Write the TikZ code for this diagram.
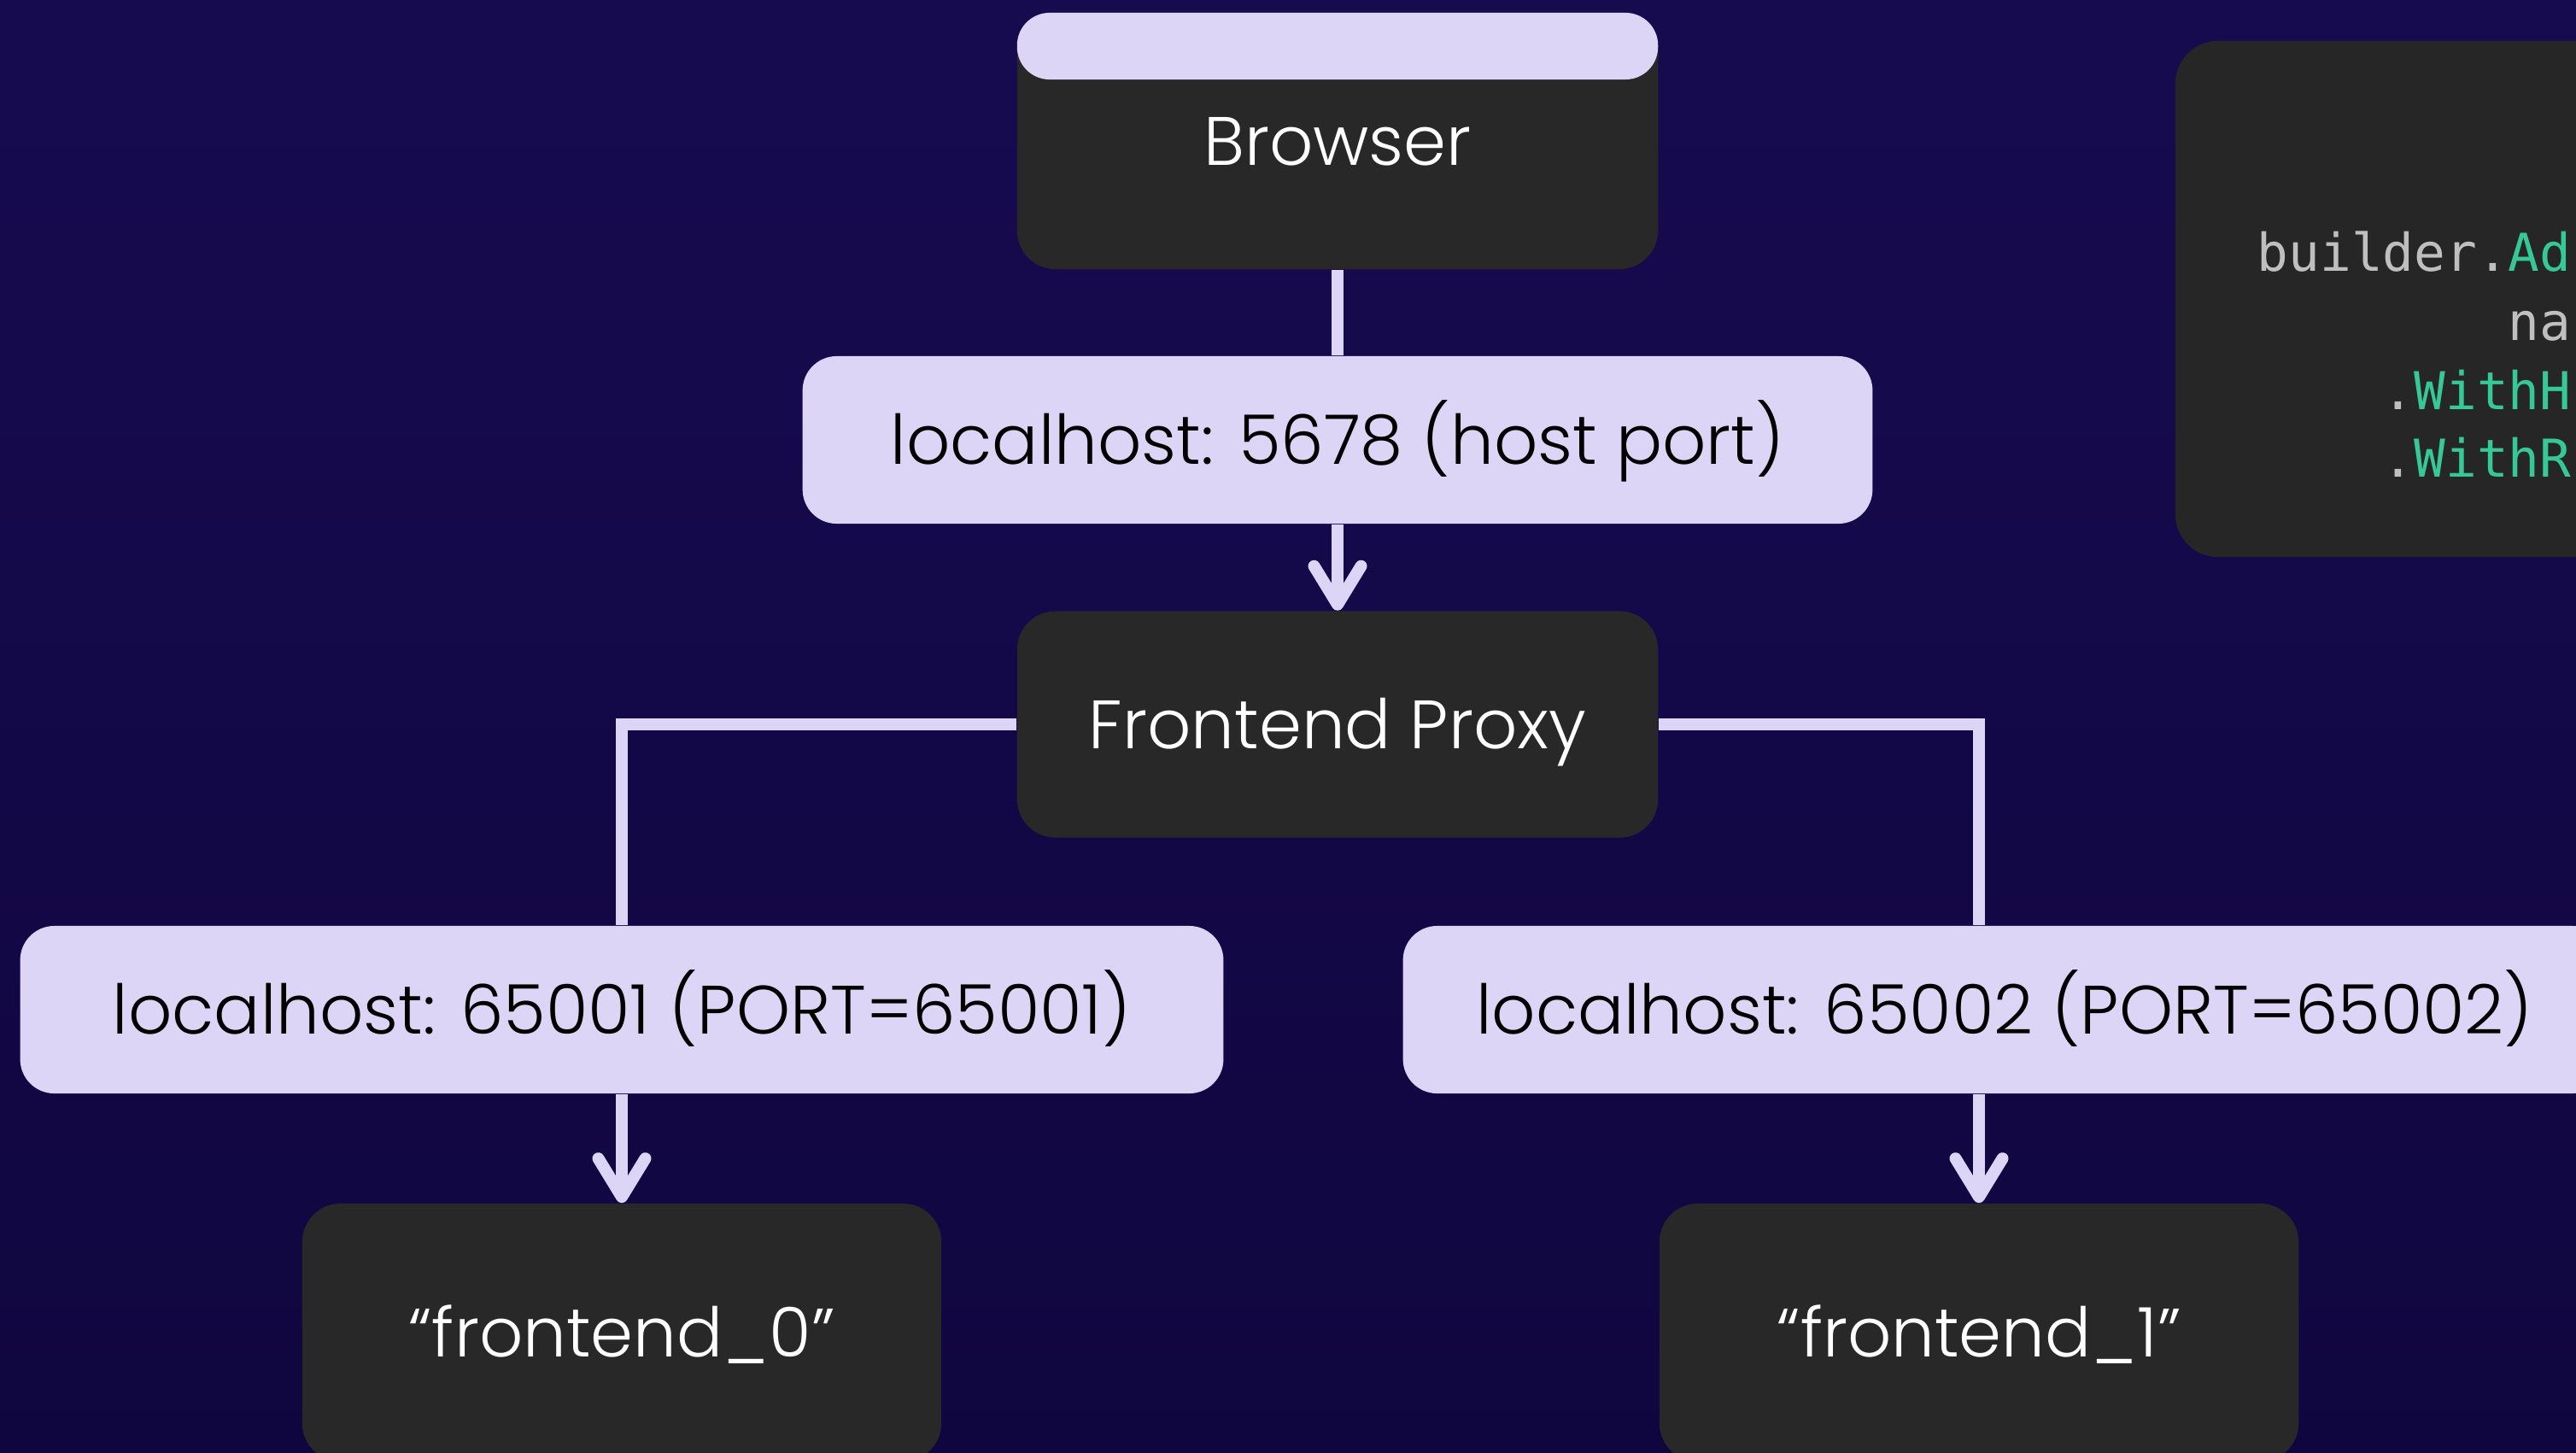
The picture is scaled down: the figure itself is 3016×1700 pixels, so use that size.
\documentclass[tikz,border=0pt]{standalone}
\usepackage{fontspec}
\setmainfont{Poppins Light}
\newfontfamily\codefont{DejaVu Sans Mono}
\usetikzlibrary{arrows.meta}
\definecolor{bgtop}{HTML}{170B50}
\definecolor{bgbot}{HTML}{10063F}
\definecolor{card}{HTML}{282828}
\definecolor{codebg}{HTML}{262626}
\definecolor{lav}{HTML}{DCD5F5}
\definecolor{codegray}{HTML}{BFBFBF}
\definecolor{codegreen}{HTML}{36C997}
\newcommand\diagfont{\fontsize{22.8}{27}\selectfont}
\begin{document}
\begin{tikzpicture}[x=0.01cm,y=-0.01cm,
  darkbox/.style={fill=card, rounded corners=0.45cm, inner sep=0pt, text=white,
    text height=0.57cm, text depth=0pt, font=\diagfont},
  portbox/.style={fill=lav, rounded corners=0.40cm, inner sep=0pt, text=black,
    text height=0.57cm, text depth=0pt, minimum height=1.96cm, font=\diagfont},
  link/.style={draw=lav, line width=0.14cm},
  flow/.style={link, -{Straight Barb[length=0.45cm,width=0.55cm,round]}},
  code/.style={anchor=base west, inner sep=0pt, text=codegray,
    font=\codefont\fontsize{17.36}{20}\selectfont},
]
% canvas
\useasboundingbox (0,0) rectangle (3016,1700);
\shade[top color=bgtop, bottom color=bgbot] (0,0) rectangle (3016,1700);

% boxes
\node[darkbox, minimum width=7.5cm, minimum height=3cm] (browser) at (1566,165) {Browser};
\node[fill=lav, rounded corners=0.38cm, inner sep=0pt, minimum width=7.5cm,
  minimum height=0.78cm] (browserbar) at (1566,54) {};
\node[portbox, minimum width=12.52cm] (p5678) at (1566,515) {localhost: 5678 (host port)};
\node[darkbox, minimum width=7.5cm, minimum height=2.65cm] (proxy) at (1566,848) {Frontend Proxy};
\node[portbox, minimum width=14.08cm] (p65001) at (728,1182) {localhost: 65001 (PORT=65001)};
\node[portbox, minimum width=14.08cm] (p65002) at (2347,1182) {localhost: 65002 (PORT=65002)};
\node[darkbox, minimum width=7.48cm, minimum height=3.02cm] (f0) at (728,1560) {“frontend\_0”};
\node[darkbox, minimum width=7.48cm, minimum height=3.02cm] (f1) at (2317,1560) {“frontend\_1”};

% code panel
\node[fill=codebg, rounded corners=0.5cm, inner sep=0pt, minimum width=5.6cm,
  minimum height=6.04cm] (codebox) at (2827,350) {};
\node[code] (c1) at (2642,317) {builder.\textcolor{codegreen}{Ad}};
\node[code] (c2) at (2936,398) {na};
\node[code] (c3) at (2789,479) {.\textcolor{codegreen}{WithH}};
\node[code] (c4) at (2789,558) {.\textcolor{codegreen}{WithR}};

% connectors
\draw[link] (browser.south) -- (p5678.north);
\draw[flow] (p5678.south) -- (proxy.north);
\draw[link] (proxy.west) -| (p65001.north);
\draw[link] (proxy.east) -| (p65002.north -| f1.north);
\draw[flow] (p65001.south) -- (f0.north);
\draw[flow] (p65002.south -| f1.north) -- (f1.north);
\end{tikzpicture}
\end{document}
